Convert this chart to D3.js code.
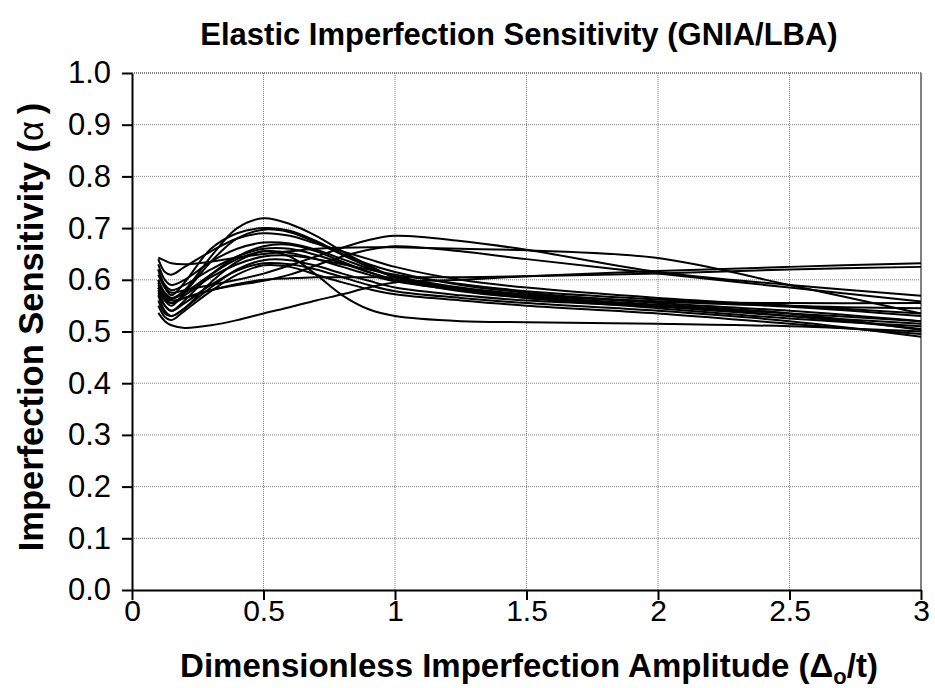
<!DOCTYPE html>
<html>
<head>
<meta charset="utf-8">
<script src="https://cdn.jsdelivr.net/npm/d3@7"></script>
<style>
  html, body { margin: 0; padding: 0; background: #fff; }
  svg { display: block; }
  text { font-family: "Liberation Sans", Arial, sans-serif; fill: #000; }
</style>
</head>
<body>
<svg id="chart" width="935" height="688"></svg>
<script>
// ---- Data ----
const xValues = [0.1, 0.125, 0.15, 0.2, 0.3, 0.4, 0.5, 0.6, 0.7, 0.8, 0.9, 1.0, 1.25, 1.5, 2.0, 2.5, 3.0];

const series01 = [0.600, 0.575, 0.565, 0.580, 0.645, 0.700, 0.719, 0.708, 0.685, 0.655, 0.628, 0.605, 0.580, 0.565, 0.545, 0.525, 0.510];
const series02 = [0.620, 0.585, 0.570, 0.595, 0.660, 0.690, 0.700, 0.695, 0.675, 0.650, 0.630, 0.615, 0.590, 0.575, 0.555, 0.540, 0.520];
const series03 = [0.595, 0.560, 0.550, 0.575, 0.635, 0.680, 0.697, 0.692, 0.672, 0.648, 0.625, 0.605, 0.583, 0.568, 0.550, 0.530, 0.505];
const series04 = [0.640, 0.615, 0.610, 0.625, 0.655, 0.680, 0.690, 0.685, 0.670, 0.655, 0.640, 0.625, 0.600, 0.585, 0.565, 0.550, 0.535];
const series05 = [0.580, 0.550, 0.540, 0.560, 0.610, 0.645, 0.665, 0.668, 0.655, 0.635, 0.615, 0.600, 0.578, 0.565, 0.550, 0.535, 0.520];
const series06 = [0.570, 0.540, 0.530, 0.545, 0.595, 0.635, 0.655, 0.645, 0.610, 0.570, 0.543, 0.530, 0.520, 0.518, 0.515, 0.510, 0.500];
const series07 = [0.600, 0.565, 0.555, 0.570, 0.605, 0.630, 0.645, 0.647, 0.640, 0.630, 0.620, 0.610, 0.592, 0.578, 0.562, 0.550, 0.545];
const series08 = [0.560, 0.535, 0.530, 0.545, 0.585, 0.620, 0.638, 0.638, 0.627, 0.612, 0.598, 0.585, 0.570, 0.560, 0.548, 0.530, 0.515];
const series09 = [0.550, 0.528, 0.522, 0.540, 0.578, 0.610, 0.628, 0.625, 0.610, 0.595, 0.582, 0.572, 0.560, 0.550, 0.535, 0.515, 0.495];
const series10 = [0.575, 0.550, 0.540, 0.555, 0.590, 0.618, 0.632, 0.630, 0.620, 0.605, 0.590, 0.578, 0.565, 0.555, 0.540, 0.520, 0.490];
const series11 = [0.610, 0.585, 0.575, 0.580, 0.590, 0.600, 0.612, 0.628, 0.645, 0.662, 0.677, 0.685, 0.675, 0.658, 0.615, 0.590, 0.569];
const series12 = [0.643, 0.637, 0.632, 0.630, 0.635, 0.643, 0.650, 0.655, 0.660, 0.662, 0.663, 0.663, 0.660, 0.657, 0.642, 0.590, 0.535];
const series13 = [0.585, 0.560, 0.555, 0.565, 0.580, 0.590, 0.598, 0.610, 0.628, 0.645, 0.658, 0.665, 0.655, 0.640, 0.612, 0.585, 0.558];
const series14 = [0.536, 0.520, 0.512, 0.507, 0.512, 0.522, 0.535, 0.547, 0.560, 0.572, 0.585, 0.595, 0.600, 0.607, 0.617, 0.625, 0.632];
const series15 = [0.585, 0.565, 0.560, 0.565, 0.580, 0.592, 0.600, 0.603, 0.605, 0.605, 0.605, 0.605, 0.605, 0.607, 0.612, 0.620, 0.625];
const series16 = [0.630, 0.600, 0.590, 0.600, 0.635, 0.660, 0.672, 0.670, 0.658, 0.640, 0.622, 0.607, 0.585, 0.572, 0.558, 0.548, 0.530];
const series17 = [0.590, 0.570, 0.563, 0.575, 0.610, 0.640, 0.655, 0.652, 0.640, 0.625, 0.610, 0.597, 0.580, 0.570, 0.558, 0.555, 0.555];
const series18 = [0.620, 0.590, 0.580, 0.590, 0.620, 0.645, 0.660, 0.660, 0.648, 0.632, 0.615, 0.600, 0.582, 0.568, 0.552, 0.535, 0.503];

const allSeries = [series01, series02, series03, series04, series05, series06, series07, series08, series09,
                   series10, series11, series12, series13, series14, series15, series16, series17, series18];

const xTickValues = [0, 0.5, 1, 1.5, 2, 2.5, 3];
const xTickLabels = ["0", "0.5", "1", "1.5", "2", "2.5", "3"];
const yTickValues = [0, 0.1, 0.2, 0.3, 0.4, 0.5, 0.6, 0.7, 0.8, 0.9, 1.0];
const yTickLabels = ["0.0", "0.1", "0.2", "0.3", "0.4", "0.5", "0.6", "0.7", "0.8", "0.9", "1.0"];

const titleText = "Elastic Imperfection Sensitivity (GNIA/LBA)";

// ---- Layout ----
const svg = d3.select("#chart");
const plot = { left: 132, right: 921, top: 73, bottom: 590 };

const x = d3.scaleLinear().domain([0, 3]).range([plot.left, plot.right]);
const y = d3.scaleLinear().domain([0, 1]).range([plot.bottom, plot.top]);

// Gridlines
const grid = svg.append("g");
grid.selectAll("line.gx")
  .data(xTickValues.filter(d => d > 0))
  .join("line")
  .attr("x1", d => x(d)).attr("x2", d => x(d))
  .attr("y1", plot.top).attr("y2", plot.bottom)
  .attr("stroke", "#808080")
  .attr("stroke-width", d => d === 3 ? 2 : 1)
  .attr("stroke-dasharray", d => d === 3 ? null : "1,1");
grid.selectAll("line.gy")
  .data(yTickValues.filter(d => d > 0))
  .join("line")
  .attr("x1", plot.left).attr("x2", plot.right)
  .attr("y1", d => y(d)).attr("y2", d => y(d))
  .attr("stroke", "#808080")
  .attr("stroke-width", d => d === 1 ? 2 : 1)
  .attr("stroke-dasharray", "1,1");

// Lines
const line = d3.line()
  .x((d, i) => x(xValues[i]))
  .y(d => y(d))
  .curve(d3.curveCatmullRom.alpha(0.5));

svg.append("g")
  .selectAll("path")
  .data(allSeries)
  .join("path")
  .attr("d", line)
  .attr("fill", "none")
  .attr("stroke", "#000")
  .attr("stroke-width", 2);

// Axes
const xAxis = d3.axisBottom(x)
  .tickValues(xTickValues)
  .tickFormat((d, i) => xTickLabels[i])
  .tickSizeInner(10).tickSizeOuter(0).tickPadding(0);
const gx = svg.append("g").attr("transform", `translate(0,${plot.bottom})`).call(xAxis);
gx.select(".domain").attr("stroke", "#000").attr("stroke-width", 2);
gx.selectAll(".tick line").attr("stroke", "#000").attr("stroke-width", 2);
gx.selectAll(".tick text").attr("font-size", 30).attr("font-family", "Liberation Sans, Arial, sans-serif").attr("fill", "#000");

const yAxis = d3.axisLeft(y)
  .tickValues(yTickValues)
  .tickFormat((d, i) => yTickLabels[i])
  .tickSizeInner(10).tickSizeOuter(0).tickPadding(11);
const gy = svg.append("g").attr("transform", `translate(${plot.left},0)`).call(yAxis);
gy.select(".domain").attr("stroke", "#000").attr("stroke-width", 2);
gy.selectAll(".tick line").attr("stroke", "#000").attr("stroke-width", 2);
gy.selectAll(".tick text").attr("font-size", 31).attr("font-family", "Liberation Sans, Arial, sans-serif").attr("fill", "#000");

// Title
svg.append("text")
  .attr("x", 519).attr("y", 45)
  .attr("text-anchor", "middle")
  .attr("font-size", 31).attr("font-weight", "bold")
  .text(titleText);

// X label
const xl = svg.append("text")
  .attr("x", 529).attr("y", 677)
  .attr("text-anchor", "middle")
  .attr("font-size", 33).attr("font-weight", "bold");
xl.append("tspan").text("Dimensionless Imperfection Amplitude (Δ");
xl.append("tspan").attr("font-size", 22).attr("dy", 7).text("o");
xl.append("tspan").attr("dy", -7).text("/t)");

// Y label
const yl = svg.append("text")
  .attr("transform", "translate(43,327) rotate(-90)")
  .attr("text-anchor", "middle")
  .attr("font-size", 34.5).attr("font-weight", "bold");
yl.append("tspan").text("Imperfection Sensitivity (");
yl.append("tspan").attr("font-weight", "normal").text("α\u2009");
yl.append("tspan").text(")");
</script>
</body>
</html>
